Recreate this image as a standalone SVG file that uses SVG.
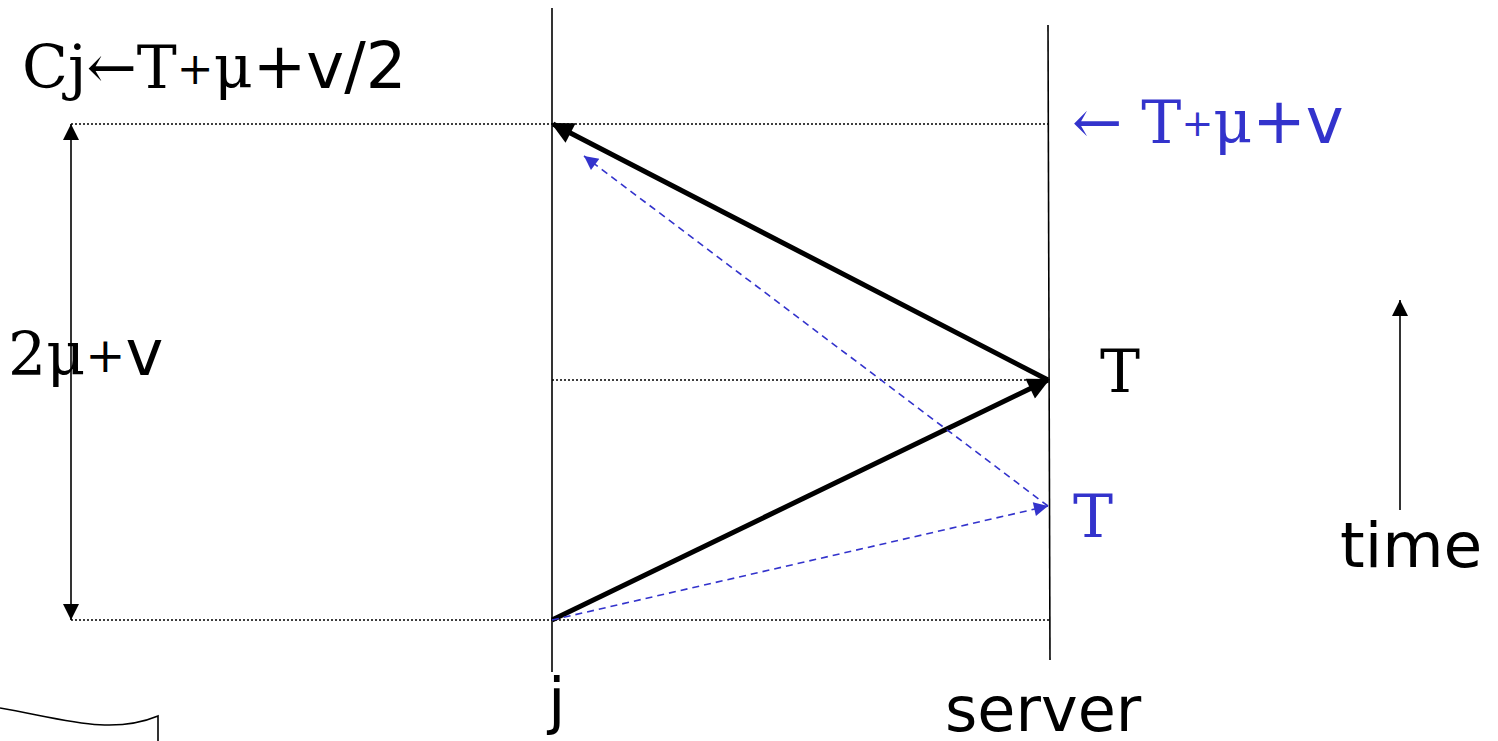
<svg xmlns="http://www.w3.org/2000/svg" width="1498" height="741" viewBox="0 0 1498 741">
<style>
.serif{font-family:"DejaVu Serif","Liberation Serif",serif}
.sans{font-family:"DejaVu Sans","Liberation Sans",sans-serif}
.lbl{font-size:60px}
.blue{fill:#3333cc}
.thin{stroke:#000;stroke-width:1.6;fill:none}
.dot{stroke:#000;stroke-width:1.5;stroke-dasharray:2,2;fill:none}
.thick{stroke:#000;stroke-width:5;fill:none}
.dash{stroke:#3333cc;stroke-width:1.6;stroke-dasharray:7,5;fill:none}
</style>
<defs>
<marker id="ah" viewBox="0 0 10 10" refX="10" refY="5" markerWidth="16" markerHeight="16" markerUnits="userSpaceOnUse" orient="auto-start-reverse"><path d="M0,0L10,5L0,10z" fill="#000"/></marker>
<marker id="ahT" viewBox="0 0 10 10" refX="9" refY="5" markerWidth="5" markerHeight="4.4" orient="auto"><path d="M0,0L10,5L0,10z" fill="#000"/></marker>
<marker id="ahB" viewBox="0 0 10 10" refX="10" refY="5" markerWidth="16" markerHeight="14" markerUnits="userSpaceOnUse" orient="auto"><path d="M0,0L10,5L0,10z" fill="#3333cc"/></marker>
</defs>
<g id="timelines">
<line id="line-j" class="thin" x1="552" y1="8" x2="552" y2="672"/>
<line id="line-server" class="thin" x1="1048" y1="25" x2="1050" y2="660"/>
</g>
<g id="connectors">
<line class="dot" x1="71" y1="124" x2="1048" y2="124"/>
<line class="dot" x1="552" y1="380" x2="1048" y2="380"/>
<line class="dot" x1="71" y1="620" x2="1050" y2="620"/>
<line class="thin" x1="71" y1="124" x2="71" y2="620" stroke-width="2" marker-start="url(#ah)" marker-end="url(#ah)"/>
<line class="thick" x1="552" y1="620" x2="1048" y2="380" marker-end="url(#ahT)"/>
<line class="thick" x1="1048" y1="380" x2="553" y2="124" marker-end="url(#ahT)"/>
<line class="dash" x1="552" y1="620" x2="1048" y2="506" marker-end="url(#ahB)"/>
<line class="dash" x1="1048" y1="506" x2="584" y2="156" marker-end="url(#ahB)"/>
<line class="thin" x1="1400" y1="510" x2="1400" y2="300" stroke-width="2" marker-end="url(#ah)"/>
<path class="thin" d="M0,708 C60,718 110,736 158,716 L158,741" stroke-width="2"/>
</g>
<g id="label-cj"><text class="lbl" x="22" y="88"><tspan class="serif">Cj←T</tspan><tspan class="serif" font-size="44" dy="-4">+</tspan><tspan class="serif" dy="4">μ</tspan><tspan class="sans" font-size="64">+v/2</tspan></text></g>
<g id="label-2mu"><text class="lbl" x="8" y="375"><tspan class="serif">2μ</tspan><tspan class="serif" font-size="48" dy="-3">+</tspan><tspan class="sans" font-size="64" dy="3">v</tspan></text></g>
<g id="label-tmuv"><text class="lbl blue" x="1072" y="143"><tspan class="serif">← T</tspan><tspan class="serif" font-size="38" dy="-7">+</tspan><tspan class="serif" dy="7">μ</tspan><tspan class="sans" font-size="64">+v</tspan></text></g>
<g id="label-T"><text class="lbl serif" x="1100" y="392">T</text></g>
<g id="label-Tblue"><text class="lbl serif blue" x="1073" y="537">T</text></g>
<g id="label-time"><text class="sans" font-size="63" x="1340" y="567">time</text></g>
<g id="label-j"><text class="sans" font-size="63" x="548" y="722">j</text></g>
<g id="label-server"><text class="sans" font-size="62" x="945" y="731">server</text></g>
</svg>
